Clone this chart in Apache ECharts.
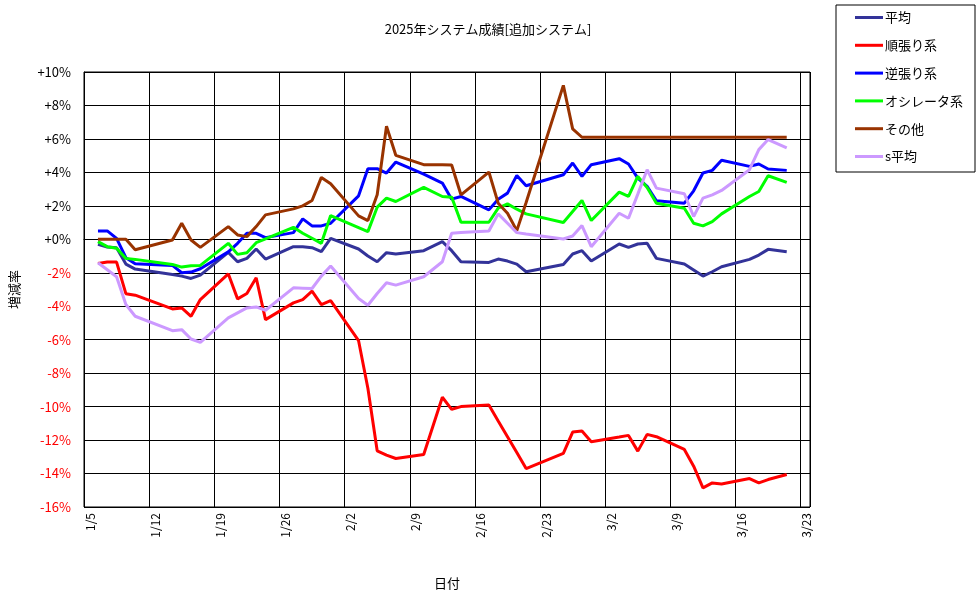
<!DOCTYPE html>
<html>
<head>
<meta charset="utf-8">
<script src="https://cdn.jsdelivr.net/npm/echarts@6/dist/echarts.min.js"></script>
<style>
html, body { margin: 0; padding: 0; background: #fff; }
#main { width: 976px; height: 599px; }
</style>
</head>
<body>
<div id="main"></div>
<script>
// 取引日
const dates = ['1/6','1/7','1/8','1/9','1/10','1/14','1/15','1/16','1/17','1/20','1/21','1/22','1/23','1/24',
	'1/27','1/28','1/29','1/30','1/31','2/3','2/4','2/5','2/6','2/7','2/10','2/12','2/13','2/14',
	'2/17','2/18','2/19','2/20','2/21','2/25','2/26','2/27','2/28','3/3','3/4','3/5','3/6','3/7',
	'3/10','3/11','3/12','3/13','3/14','3/17','3/18','3/19','3/21']

// 各系列 (%)
const heikin = [-0.3, -0.46, -0.5, -1.48, -1.78, -2.1, -2.2, -2.34, -2.14, -0.78, -1.34, -1.14, -0.58, -1.18,
	-0.44, -0.44, -0.5, -0.74, 0.06, -0.58, -1.0, -1.34, -0.8, -0.88, -0.68, -0.14, -0.68, -1.34,
	-1.38, -1.18, -1.3, -1.48, -1.94, -1.5, -0.88, -0.68, -1.3, -0.28, -0.48, -0.28, -0.24, -1.14,
	-1.48, -1.84, -2.2, -1.94, -1.64, -1.2, -0.94, -0.6, -0.74]
const junbari = [-1.44, -1.36, -1.36, -3.25, -3.34, -4.16, -4.1, -4.6, -3.6, -2.06, -3.56, -3.24, -2.3, -4.8,
	-3.8, -3.6, -3.1, -3.9, -3.66, -6.06, -8.9, -12.64, -12.9, -13.1, -12.86, -9.44, -10.16, -10.0,
	-9.9, -10.86, -11.8, -12.74, -13.7, -12.8, -11.52, -11.46, -12.1, -11.82, -11.72, -12.66, -11.66, -11.8,
	-12.56, -13.56, -14.86, -14.56, -14.62, -14.3, -14.56, -14.36, -14.06]
const gyakubari = [0.5, 0.5, 0.06, -1.1, -1.46, -1.56, -2.0, -1.96, -1.76, -0.75, -0.24, 0.36, 0.36, 0.1,
	0.4, 1.22, 0.8, 0.8, 0.96, 2.6, 4.22, 4.22, 3.96, 4.62, 3.9, 3.36, 2.4, 2.56,
	1.76, 2.4, 2.76, 3.82, 3.2, 3.86, 4.56, 3.76, 4.46, 4.82, 4.5, 3.66, 3.16, 2.3,
	2.16, 2.9, 3.96, 4.12, 4.72, 4.36, 4.5, 4.2, 4.12]
const oscillator = [-0.14, -0.44, -0.54, -1.14, -1.2, -1.5, -1.66, -1.58, -1.56, -0.24, -0.9, -0.8, -0.2, 0.02,
	0.72, 0.36, 0.06, -0.24, 1.42, 0.7, 0.46, 1.92, 2.46, 2.26, 3.1, 2.56, 2.52, 1.02,
	1.02, 1.86, 2.12, 1.8, 1.52, 1.0, 1.66, 2.32, 1.12, 2.82, 2.56, 3.76, 3.1, 2.16,
	1.86, 0.96, 0.8, 1.06, 1.52, 2.56, 2.86, 3.8, 3.4]
const sonota = [0, 0, 0, 0, -0.62, -0.04, 0.96, -0.04, -0.48, 0.76, 0.26, 0.16, 0.76, 1.46,
	1.82, 2.0, 2.32, 3.7, 3.32, 1.4, 1.12, 2.66, 6.76, 5.02, 4.46, 4.46, 4.44, 2.66,
	4.02, 2.16, 1.56, 0.52, 2.2, 9.2, 6.6, 6.1, 6.1, 6.1, 6.1, 6.1, 6.1, 6.1,
	6.1, 6.1, 6.1, 6.1, 6.1, 6.1, 6.1, 6.1, 6.1]
const sHeikin = [-1.4, -1.82, -2.24, -3.9, -4.6, -5.46, -5.4, -5.96, -6.16, -4.7, -4.4, -4.1, -4.04, -4.24,
	-2.9, -2.92, -2.94, -2.2, -1.6, -3.54, -3.94, -3.24, -2.6, -2.74, -2.24, -1.34, 0.36, 0.4,
	0.5, 1.52, 0.96, 0.4, 0.32, 0.02, 0.2, 0.82, -0.44, 1.56, 1.26, 2.7, 4.16, 3.06,
	2.72, 1.36, 2.46, 2.66, 2.92, 4.16, 5.36, 5.96, 5.46]

const seriesNames = ['平均', '順張り系', '逆張り系', 'オシレータ系', 'その他', 's平均']
const seriesColors = ['#333399', '#FF0000', '#0000FF', '#00FF00', '#993300', '#CC99FF']
const seriesValues = [heikin, junbari, gyakubari, oscillator, sonota, sHeikin]

const FONT = '"Noto Sans CJK JP", sans-serif'
const base = new Date(2025, 0, 5)

// 1/5 からの日数 (日付軸の中央に置く)
const dayOffset = (s) => {
	const [m, d] = s.split('/').map(Number)
	return Math.round((new Date(2025, m - 1, d) - base) / 86400000) + 0.5
}
const dayLabel = (v) => {
	if (v % 7 !== 0) return ''
	const dt = new Date(2025, 0, 5 + v)
	return (dt.getMonth() + 1) + '/' + dt.getDate()
}

const chart = echarts.init(document.getElementById('main'))

const option = {
	backgroundColor: '#fff',
	animation: false,
	textStyle: { fontFamily: FONT },
	title: {
		text: '2025年システム成績[追加システム]',
		left: 'center',
		top: 18,
		textStyle: { fontSize: 13, fontWeight: 'normal', color: '#000', fontFamily: FONT }
	},
	legend: {
		orient: 'vertical',
		left: 836,
		top: 5,
		data: seriesNames,
		icon: 'rect',
		itemWidth: 28,
		itemHeight: 3,
		itemGap: 14.8,
		padding: [6, 12, 9, 19],
		borderColor: '#000',
		borderWidth: 1,
		textStyle: { fontSize: 13, color: '#000', fontFamily: FONT, padding: [0, 0, 0, -3] }
	},
	grid: {
		left: 84,
		right: 166,
		top: 72,
		bottom: 92,
		show: true,
		borderColor: '#000',
		borderWidth: 1
	},
	xAxis: {
		type: 'value',
		min: 0,
		max: 78,
		interval: 7,
		name: '日付',
		nameLocation: 'middle',
		nameGap: 70,
		nameTextStyle: { fontSize: 13, color: '#000', fontFamily: FONT },
		axisLine: { lineStyle: { color: '#000' } },
		axisTick: { show: false },
		splitLine: { lineStyle: { color: '#000', width: 1 } },
		axisLabel: {
			rotate: 90,
			margin: 6,
			fontSize: 12,
			color: '#000',
			fontFamily: FONT,
			verticalAlign: 'top',
			formatter: dayLabel
		}
	},
	yAxis: {
		type: 'value',
		min: -16,
		max: 10,
		interval: 2,
		name: '増減率',
		nameLocation: 'middle',
		nameGap: 63,
		nameTextStyle: { fontSize: 13, color: '#000', fontFamily: FONT },
		axisLine: { show: true, lineStyle: { color: '#000' } },
		axisTick: { show: false },
		splitLine: { lineStyle: { color: '#000', width: 1 } },
		axisLabel: {
			margin: 13,
			fontSize: 13,
			fontFamily: FONT,
			color: (v) => (Number(v) < 0 ? '#FF0000' : '#000'),
			formatter: (v) => (v < 0 ? '-' + Math.abs(v) + '%' : '+' + v + '%')
		}
	},
	series: seriesNames.map((name, i) => ({
		name: name,
		type: 'line',
		showSymbol: false,
		symbol: 'none',
		color: seriesColors[i],
		lineStyle: { width: 3, color: seriesColors[i] },
		data: dates.map((d, j) => [dayOffset(d), seriesValues[i][j]])
	}))
}

chart.setOption(option)
</script>
</body>
</html>
